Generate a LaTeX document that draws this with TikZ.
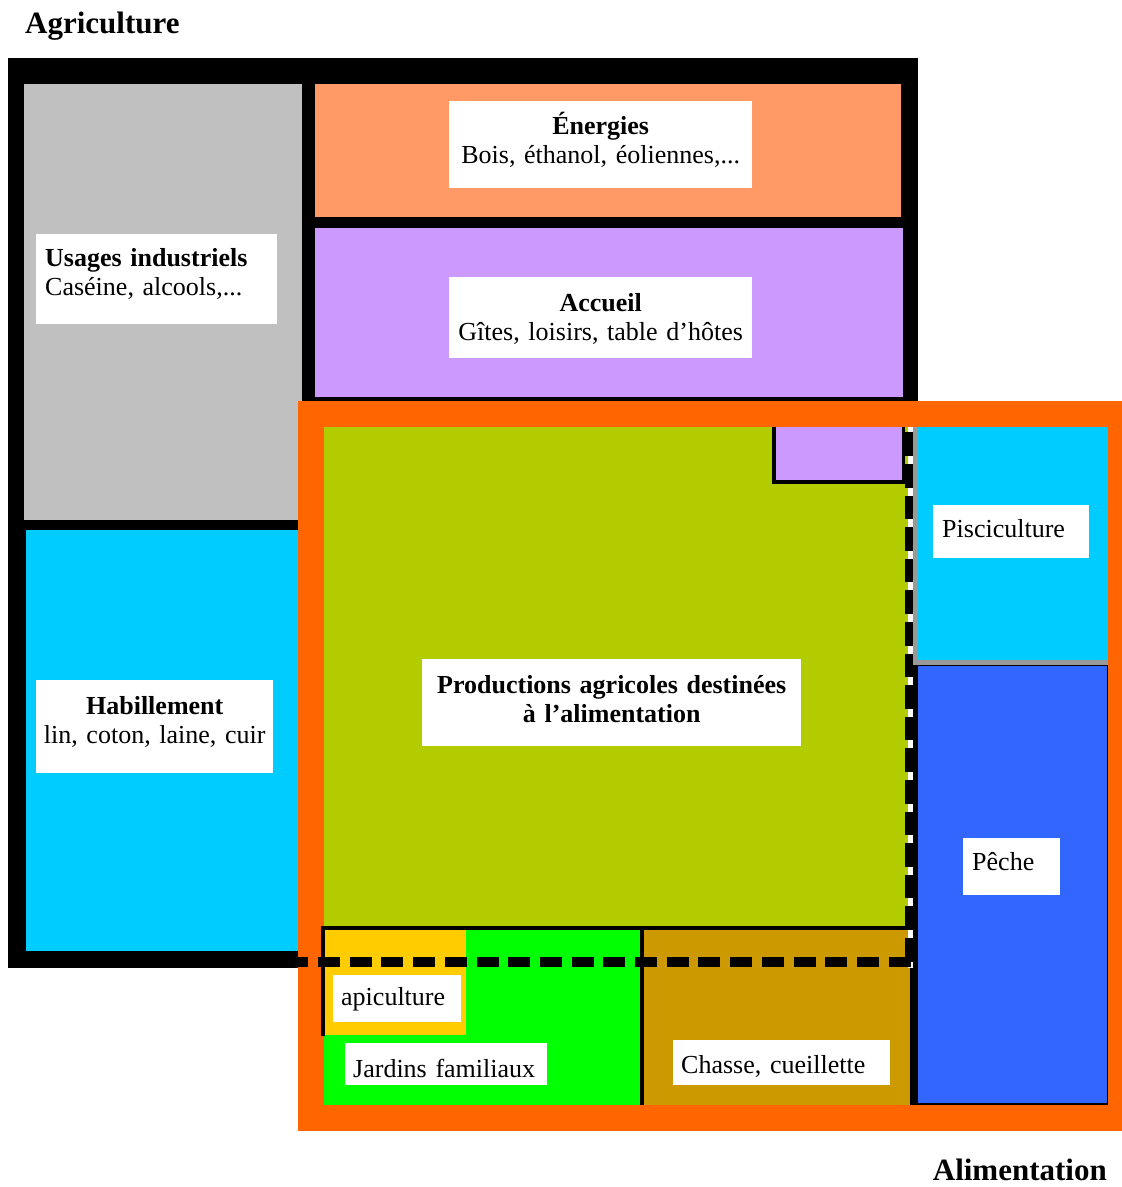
\documentclass[tikz,border=0pt]{standalone}
\usepackage{fontspec}
\setmainfont{Liberation Serif}
\definecolor{cgrey}{HTML}{C0C0C0}
\definecolor{csalmon}{HTML}{FF9966}
\definecolor{cpurple}{HTML}{CC99FF}
\definecolor{ccyan}{HTML}{00CCFF}
\definecolor{corange}{HTML}{FF6600}
\definecolor{clime}{HTML}{B2CC00}
\definecolor{cblue}{HTML}{3366FF}
\definecolor{cyellow}{HTML}{FFCC00}
\definecolor{cgreen}{HTML}{00FF00}
\definecolor{cgold}{HTML}{CC9900}
\definecolor{cline}{HTML}{999999}
\begin{document}
\begin{tikzpicture}[x=1pt,y=-1pt,
  lbl/.style={fill=white, inner ysep=0pt, anchor=north west,
    font=\fontsize{26}{29}\selectfont},
  title/.style={inner sep=0pt, font=\fontsize{31}{34}\selectfont\bfseries}]
\useasboundingbox (0,0) rectangle (1122,1187);
\fill[white] (0,0) rectangle (1122,1187);
% Agriculture frame
\fill[black] (8,58) rectangle (918,968);
\fill[cgrey] (24,84) rectangle (302,520);
\fill[csalmon] (315,84) rectangle (901,217);
\fill[cpurple] (315,228) rectangle (903,397);
\fill[ccyan] (26,530) rectangle (298,951);
% Alimentation frame
\fill[corange] (298,401) rectangle (1122,1131);
\fill[clime] (324,427) rectangle (908,926);
% small purple overlap
\fill[black] (772,427) rectangle (905,484);
\fill[cpurple] (776,427) rectangle (902,480);
% bottom row
\fill[cgreen] (324,930) rectangle (640,1105);
\fill[cgold] (644,930) rectangle (910,1105);
\fill[cyellow] (325,930) rectangle (466,1035);
\fill[black] (321,926) rectangle (910,930);
\fill[black] (321,926) rectangle (325,1036);
\fill[black] (640,926) rectangle (644,1105);
% right column
\fill[cline] (913,427) rectangle (1108,665);
\fill[ccyan] (918,427) rectangle (1108,660);
\fill[black] (913,665) rectangle (1108,1105);
\fill[cblue] (918,666) rectangle (1107,1103);
\fill[black] (910,962) rectangle (918,1105);
% dashed continuation of the Agriculture frame
\fill[white] (908,427) rectangle (913,968);
\draw[line width=8pt, dash pattern=on 23.6pt off 8pt, dash phase=26.2pt]
  (909,427) -- (909,968);
\draw[line width=10pt, dash pattern=on 22pt off 9.7pt, dash phase=11.7pt]
  (298,962) -- (912,962);
% labels
\node[lbl, inner xsep=0pt, text width=303pt, align=center, text height=33pt, text depth=54pt]
  (energies) at (449,101) {\textbf{Énergies}\\Bois, éthanol, éoliennes,...};
\node[lbl, inner xsep=9pt, text width=223pt, align=left, text height=32pt, text depth=58pt]
  (usages) at (36,234) {\textbf{Usages industriels}\\Caséine, alcools,...};
\node[lbl, inner xsep=0pt, text width=303pt, align=center, text height=34pt, text depth=47pt]
  (accueil) at (449,277) {\textbf{Accueil}\\Gîtes, loisirs, table d’hôtes};
\node[lbl, inner xsep=0pt, text width=237pt, align=center, text height=34pt, text depth=59pt]
  (habillement) at (36,680) {\textbf{Habillement}\\lin, coton, laine, cuir};
\node[lbl, inner xsep=0pt, text width=379pt, align=center, text height=34pt, text depth=53pt]
  (productions) at (422,659) {\textbf{Productions agricoles destinées}\\\textbf{à l’alimentation}};
\node[lbl, inner xsep=9pt, text width=138pt, align=left, text height=32pt, text depth=21pt]
  (pisciculture) at (933,505) {Pisciculture};
\node[lbl, inner xsep=9pt, text width=79pt, align=left, text height=32pt, text depth=25pt]
  (peche) at (963,838) {Pêche};
\node[lbl, inner xsep=8pt, text width=112pt, align=left, text height=30pt, text depth=17pt]
  (apiculture) at (333,975) {apiculture};
\node[lbl, inner xsep=8pt, text width=186pt, align=left, text height=34pt, text depth=8pt]
  (jardins) at (345,1043) {Jardins familiaux};
\node[lbl, inner xsep=8pt, text width=201pt, align=left, text height=33pt, text depth=12pt]
  (chasse) at (673,1040) {Chasse, cueillette};
% titles
\node[title, anchor=base west] (agriculture) at (25,33) {Agriculture};
\node[title, anchor=base east] (alimentation) at (1107,1180) {Alimentation};
\end{tikzpicture}
\end{document}
